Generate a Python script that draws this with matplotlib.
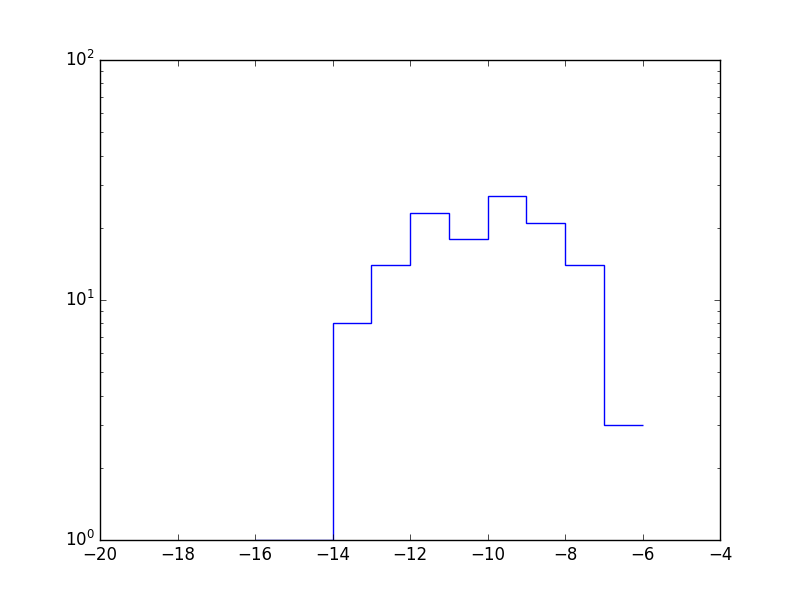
import matplotlib
matplotlib.use("Agg")
import matplotlib.pyplot as plt

# bin edges and counts
edges = [-16, -15, -14, -13, -12, -11, -10, -9, -8, -7, -6]
counts = [1, 1, 8, 14, 23, 18, 27, 21, 14, 3]

plt.style.use("classic")
plt.rcParams["figure.facecolor"] = "white"
plt.rcParams["mathtext.fontset"] = "dejavusans"

fig = plt.figure(figsize=(8, 6), dpi=100)
ax = fig.add_subplot(111)
ax.stairs(counts, edges, baseline=None, color="b")
ax.set_yscale("log")
ax.set_xlim(-20, -4)
ax.set_ylim(1, 100)

fig.savefig("out.png", dpi=100, facecolor="white")
